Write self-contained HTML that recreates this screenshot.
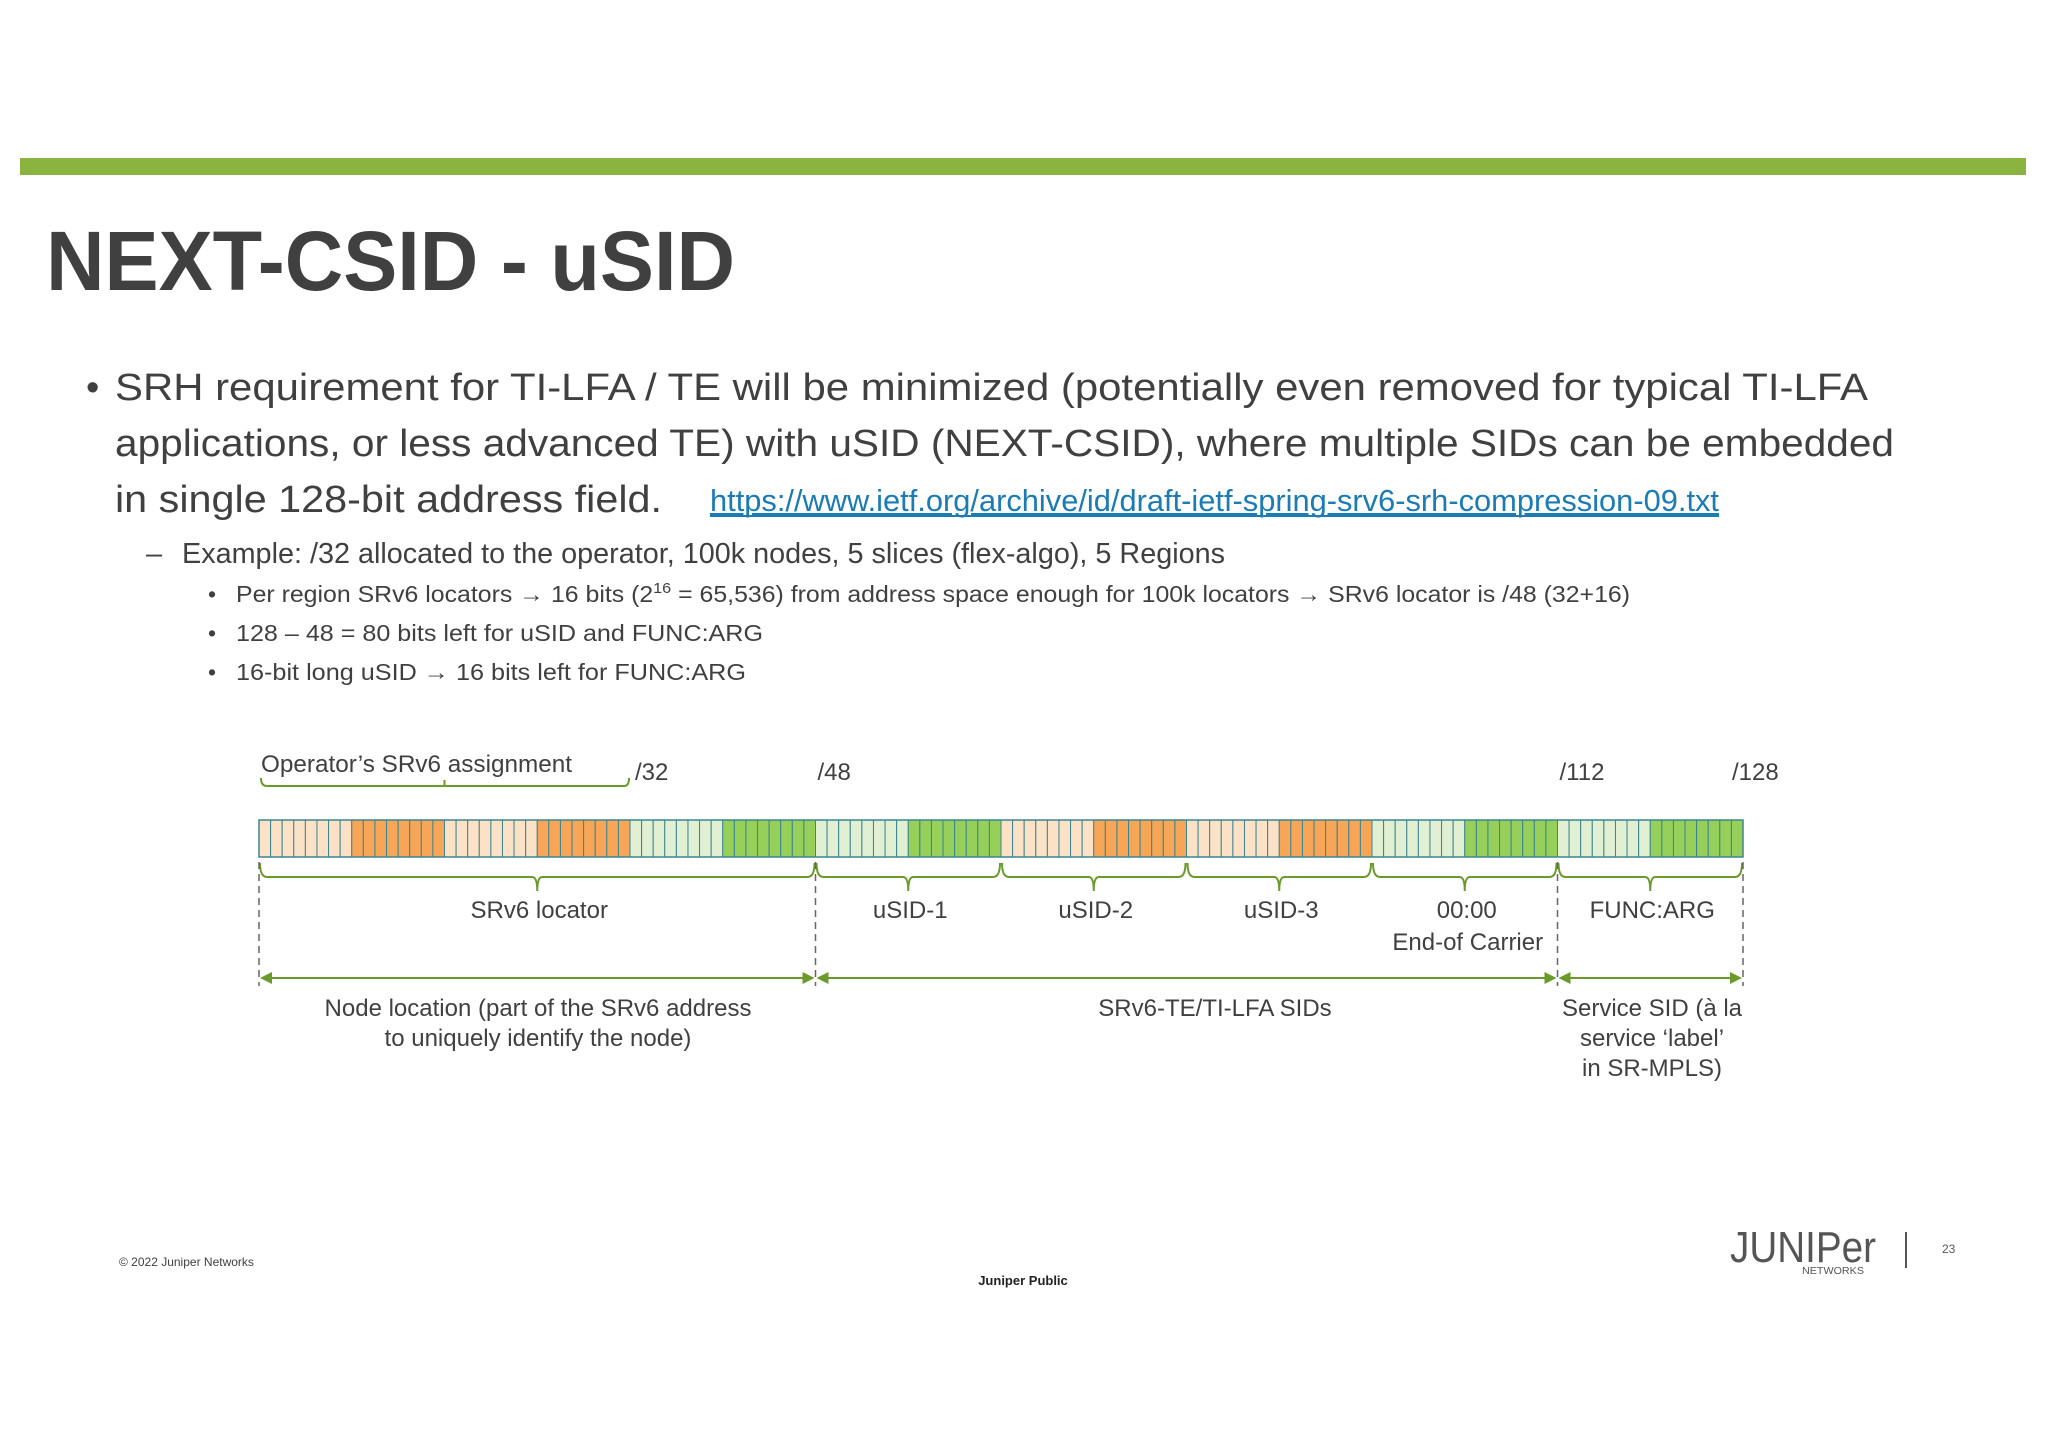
<!DOCTYPE html>
<html><head><meta charset="utf-8">
<style>
html,body{margin:0;padding:0;background:#fff;}
svg{display:block;}
text{font-family:"Liberation Sans",sans-serif;fill:#404040;}
</style></head>
<body>
<svg id="slide" width="2048" height="1448" viewBox="0 0 2048 1448" xmlns="http://www.w3.org/2000/svg">
<rect x="0" y="0" width="2048" height="1448" fill="#fff"/>
<rect x="20" y="158" width="2006" height="17" fill="#8ab33f"/>
<text x="46" y="290" font-size="84" font-weight="bold" textLength="689" lengthAdjust="spacingAndGlyphs">NEXT-CSID - uSID</text>

<g font-size="38">
<text x="86" y="400">•</text>
<text x="115" y="400" textLength="1753" lengthAdjust="spacingAndGlyphs">SRH requirement for TI-LFA / TE will be minimized (potentially even removed for typical TI-LFA</text>
<text x="115" y="456" textLength="1779" lengthAdjust="spacingAndGlyphs">applications, or less advanced TE) with uSID (NEXT-CSID), where multiple SIDs can be embedded</text>
<text x="115" y="512" textLength="547" lengthAdjust="spacingAndGlyphs">in single 128-bit address field.</text>
</g>
<text x="710" y="511" font-size="31" style="fill:#1a7bb5" text-decoration="underline" textLength="1009" lengthAdjust="spacingAndGlyphs">https://www.ietf.org/archive/id/draft-ietf-spring-srv6-srh-compression-09.txt</text>
<line x1="710" y1="516" x2="1719" y2="516" stroke="#1a7bb5" stroke-width="2"/>

<g font-size="29">
<text x="146" y="563">–</text>
<text x="182" y="563" textLength="1043" lengthAdjust="spacingAndGlyphs">Example: /32 allocated to the operator, 100k nodes, 5 slices (flex-algo), 5 Regions</text>
</g>
<g font-size="23">
<text x="208" y="602">•</text>
<text x="236" y="602" textLength="1394" lengthAdjust="spacingAndGlyphs">Per region SRv6 locators → 16 bits (2<tspan font-size="15" dy="-9">16</tspan><tspan dy="9"> = 65,536) from address space enough for 100k locators → SRv6 locator is /48 (32+16)</tspan></text>
<text x="208" y="641">•</text>
<text x="236" y="641" textLength="527" lengthAdjust="spacingAndGlyphs">128 – 48 = 80 bits left for uSID and FUNC:ARG</text>
<text x="208" y="680">•</text>
<text x="236" y="680" textLength="510" lengthAdjust="spacingAndGlyphs">16-bit long uSID → 16 bits left for FUNC:ARG</text>
</g>

<g id="diagram"></g>

<g>
<text x="119" y="1266" font-size="12">© 2022 Juniper Networks</text>
<text x="1023" y="1285" font-size="13" font-weight="bold" text-anchor="middle" style="fill:#222">Juniper Public</text>
<text x="1730" y="1262" font-size="44" textLength="146" lengthAdjust="spacingAndGlyphs" style="fill:#555;font-weight:normal">JUNIPer</text>
<text x="1802" y="1274" font-size="10" textLength="62" lengthAdjust="spacingAndGlyphs" style="fill:#555">NETWORKS</text>
<line x1="1906" y1="1232" x2="1906" y2="1268" stroke="#555" stroke-width="2"/>
<text x="1942" y="1253" font-size="12" style="fill:#555">23</text>
</g>
</svg>
<script>
// Data
const groupColors = ["lo","o","lo","o","lg","g","lg","g","lo","o","lo","o","lg","g","lg","g"];
const bitsPerGroup = 8;
const totalBits = 128;
const segBounds = [0,48,64,80,96,112,128];
const segLabels = ["SRv6 locator","uSID-1","uSID-2","uSID-3","00:00","FUNC:ARG"];
const prefixMarks = [32,48,112,128];
const prefixLabels = ["/32","/48","/112","/128"];
const spanBounds = [[0,48],[48,112],[112,128]];

const palette = {lo:"#fbe1c6",o:"#f6a656",lg:"#e1f0d2",g:"#96d05a"};
const X0=259, X1=1743, BY=820, BH=37;
const bx = b => X0 + (X1-X0)*b/totalBits;
const NS="http://www.w3.org/2000/svg";
const g = document.getElementById('diagram');
function mk(tag, attrs){const e=document.createElementNS(NS,tag);for(const k in attrs)e.setAttribute(k,attrs[k]);g.appendChild(e);return e;}

for(let i=0;i<totalBits;i++){
  const c = groupColors[Math.floor(i/bitsPerGroup)];
  const r = mk('rect',{x:bx(i),y:BY,width:bx(i+1)-bx(i),height:BH,fill:palette[c],stroke:"#3c8590","stroke-width":1});
  
  
}
const outline = mk('rect',{x:X0,y:BY,width:X1-X0,height:BH,fill:"none",stroke:"#3c8590","stroke-width":1.5});



const ob = mk('path',{d:`M${bx(0)+2} 778 Q${bx(0)+2} 786 ${bx(0)+8} 786 L${bx(32)-6} 786 Q${bx(32)-1} 786 ${bx(32)-1} 778 M${(bx(0)+bx(32))/2} 786 L${(bx(0)+bx(32))/2} 780`,fill:"none",stroke:"#6a9a2a","stroke-width":2});


const ot = mk('text',{x:261,y:772,"font-size":24,textLength:311,lengthAdjust:"spacingAndGlyphs"});
ot.textContent="Operator’s SRv6 assignment";



prefixMarks.forEach((p,i)=>{
  const t=mk('text',{x:bx(p)+(i==3?-11:2)+(i==0?3:0),y:780,"font-size":24});
  t.textContent=prefixLabels[i];
  
  
});

for(let i=0;i<segLabels.length;i++){
  const a=bx(segBounds[i])+1, b=bx(segBounds[i+1])-1, m=(a+b)/2;
  const p=mk('path',{d:`M${a} 863 Q${a} 877 ${a+7} 877 L${m-5} 877 Q${m} 877 ${m} 891 Q${m} 877 ${m+5} 877 L${b-7} 877 Q${b} 877 ${b} 863`,fill:"none",stroke:"#6a9a2a","stroke-width":2});
  
  
  const t=mk('text',{x:m+2,y:918,"font-size":24,"text-anchor":"middle"});
  t.textContent=segLabels[i];
  
  
}
const eoc=mk('text',{x:(bx(96)+bx(112))/2+3,y:950,"font-size":24,"text-anchor":"middle"});
eoc.textContent="End-of Carrier";



[0,48,112,128].forEach(b=>{
  const l=mk('line',{x1:bx(b),y1:862,x2:bx(b),y2:986,stroke:"#666","stroke-width":1.5,"stroke-dasharray":"7 5"});
  
  
});

spanBounds.forEach(s=>{
  const a=bx(s[0])+1,b=bx(s[1])-1,y=978;
  const l=mk('line',{x1:a+8,y1:y,x2:b-8,y2:y,stroke:"#6a9a2a","stroke-width":2});
  
  
  const h=mk('path',{d:`M${a} ${y} L${a+12} ${y-6} L${a+12} ${y+6}Z M${b} ${y} L${b-12} ${y-6} L${b-12} ${y+6}Z`,fill:"#6a9a2a"});
  
  
});

const spanText=[
  [538,["Node location (part of the SRv6 address","to uniquely identify the node)"]],
  [1215,["SRv6-TE/TI-LFA SIDs"]],
  [1652,["Service SID (à la","service ‘label’","in SR-MPLS)"]]
];
spanText.forEach(s=>{
  s[1].forEach((line,j)=>{
    const t=mk('text',{x:s[0],y:1016+j*30,"font-size":24,"text-anchor":"middle"});
    t.textContent=line;
    
    
  });
});
</script>
</body></html>
